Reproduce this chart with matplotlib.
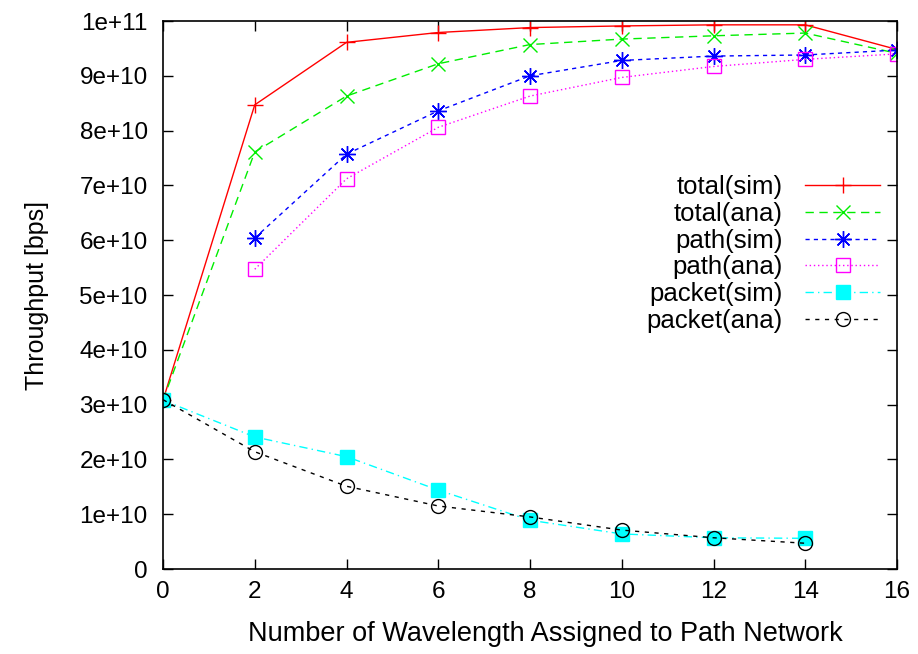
import matplotlib
matplotlib.use("Agg")
import matplotlib.pyplot as plt

plt.rcParams['font.family'] = ['Liberation Sans', 'DejaVu Sans']

x_all = [0, 2, 4, 6, 8, 10, 12, 14, 16]
x_path = [2, 4, 6, 8, 10, 12, 14, 16]
x_packet = [0, 2, 4, 6, 8, 10, 12, 14]

total_sim = [3.08e10, 8.47e10, 9.61e10, 9.79e10, 9.88e10, 9.91e10, 9.93e10, 9.93e10, 9.48e10]
total_ana = [3.08e10, 7.61e10, 8.63e10, 9.22e10, 9.57e10, 9.67e10, 9.73e10, 9.78e10, 9.41e10]
path_sim = [6.04e10, 7.57e10, 8.36e10, 9.0e10, 9.28e10, 9.36e10, 9.38e10, 9.47e10]
path_ana = [5.47e10, 7.12e10, 8.06e10, 8.63e10, 8.97e10, 9.17e10, 9.30e10, 9.40e10]
packet_sim = [3.08e10, 2.41e10, 2.05e10, 1.44e10, 0.89e10, 0.64e10, 0.57e10, 0.56e10]
packet_ana = [3.09e10, 2.14e10, 1.51e10, 1.15e10, 0.95e10, 0.71e10, 0.57e10, 0.47e10]

xticks = [0, 2, 4, 6, 8, 10, 12, 14, 16]
yticks = [0, 1e10, 2e10, 3e10, 4e10, 5e10, 6e10, 7e10, 8e10, 9e10, 1e11]
ytick_labels = ['0', '1e+10', '2e+10', '3e+10', '4e+10', '5e+10', '6e+10',
                '7e+10', '8e+10', '9e+10', '1e+11']

fig = plt.figure(figsize=(9.18, 6.54), dpi=100)
ax = fig.add_axes([163/918, 1-569/654, (897-163)/918, (569-21)/654])

lw = 1.0
ax.plot(x_all, total_sim, color='#ff0000', lw=lw, ls='-', marker='+', ms=11,
        mew=1.0, label='total(sim)')
ax.plot(x_all, total_ana, color='#00ee00', lw=lw, ls=(0, (6, 4)), marker='x', ms=10,
        mew=1.0, label='total(ana)')
ax.plot(x_path, path_sim, color='#0000ff', lw=lw, ls=(0, (3, 3)), marker=(8, 2, 0), ms=12,
        mew=1.0, label='path(sim)')
ax.plot(x_path, path_ana, color='#ff00ff', lw=lw, ls=(0, (1, 2)), marker='s', ms=10,
        mfc='none', mew=1.0, label='path(ana)')
ax.plot(x_packet, packet_sim, color='#00ffff', lw=lw, ls=(0, (6, 3, 1, 3)), marker='s', ms=10,
        mfc='#00ffff', mec='#00ffff', label='packet(sim)')
ax.plot(x_packet, packet_ana, color='#000000', lw=lw, ls=(0, (3, 4)), marker='o', ms=10,
        mfc='none', mew=1.0, label='packet(ana)')

ax.set_xlim(0, 16)
ax.set_ylim(0, 1e11)
ax.set_xticks(xticks)
ax.set_xticklabels([str(v) for v in xticks])
ax.set_yticks(yticks)
ax.set_yticklabels(ytick_labels)
ax.tick_params(direction='in', length=7, width=1.0, top=True, right=True,
               labelsize=17.5)
ax.tick_params(axis='y', pad=11)
ax.tick_params(axis='x', pad=9)
for s in ax.spines.values():
    s.set_linewidth(1.2)

ax.set_xlabel('Number of Wavelength Assigned to Path Network', fontsize=19.5, labelpad=13)
ax.xaxis.set_label_coords((545 - 163) / 734, -0.095)
ax.set_ylabel('Throughput [bps]', fontsize=18, labelpad=22)

leg = ax.legend(loc='upper right', bbox_to_anchor=(880/918, 1-175/654),
                bbox_transform=fig.transFigure, frameon=False, markerfirst=False,
                fontsize=18.5, handlelength=2.9, handletextpad=0.9,
                labelspacing=0.11, borderpad=0, borderaxespad=0)
leg._legend_box.align = "right"

fig.savefig('out.png', dpi=100)
